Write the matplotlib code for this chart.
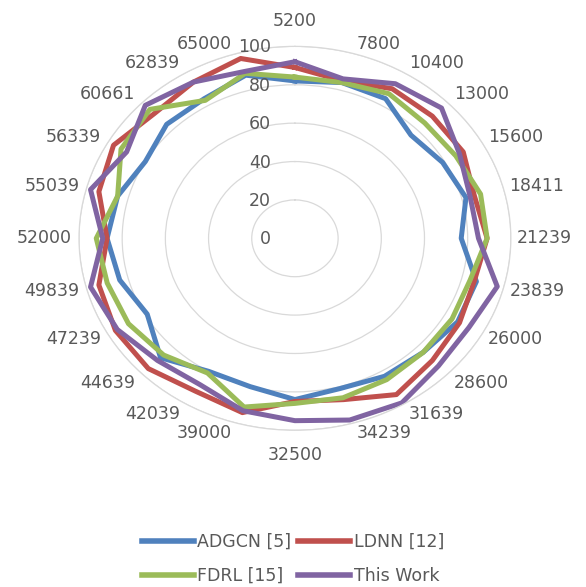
#!/usr/bin/env python3
"""Radar chart: per-size score of ADGCN / LDNN / FDRL vs this work."""
import numpy as np
import matplotlib

matplotlib.use("Agg")
import matplotlib.pyplot as plt  # noqa: E402

categories = ["5200", "7800", "10400", "13000", "15600", "18411", "21239",
              "23839", "26000", "28600", "31639", "34239", "32500", "39000",
              "42039", "44639", "47239", "49839", "52000", "55039", "56339",
              "60661", "62839", "65000"]
adgcn = [82, 84, 84, 76, 79, 82, 77, 87, 87, 84, 83, 81,
         84, 80, 80, 88, 79, 84, 87, 85, 80, 84, 84, 88]
ldnn = [89, 85, 90, 90, 90, 86, 89, 86, 88, 90, 94, 87,
        85, 94, 92, 96, 96, 94, 87, 94, 97, 92, 94, 97]
fdrl = [84, 84, 87, 85, 86, 89, 89, 84, 84, 84, 85, 86,
        86, 91, 81, 86, 89, 90, 92, 85, 93, 95, 83, 89]
this_work = [92, 86, 93, 96, 88, 84, 85, 97, 93, 94, 99, 98,
             95, 93, 88, 90, 95, 98, 89, 98, 90, 98, 94, 90]
series_names = ["ADGCN [5]", "LDNN [12]", "FDRL [15]", "This Work"]
r_ticks = [0, 20, 40, 60, 80, 100]

colors = ["#4F81BD", "#C0504D", "#9BBB59", "#8064A2"]
grey_text = "#595959"
grid_col = "#D9D9D9"

fig = plt.figure(figsize=(5.86, 5.87), dpi=100)
# polar axes stretched horizontally like the original
ax = fig.add_axes([0.1348, 0.267, 0.737, 0.654], projection="polar")
ax.set_aspect("auto")
ax.set_theta_zero_location("N")
ax.set_theta_direction(-1)
ax.set_ylim(0, 100)

theta = np.arange(len(categories)) * 2 * np.pi / len(categories)

handles = []
for vals, name, col in zip([adgcn, ldnn, fdrl, this_work], series_names, colors):
    v = np.append(vals, vals[0])
    t = np.append(theta, theta[0])
    (ln,) = ax.plot(t, v, color=col, lw=3.6, label=name)
    handles.append(ln)

ax.set_xticks(theta)
ax.set_xticklabels([])
ax.xaxis.grid(False)
ax.set_yticks(r_ticks)
ax.set_yticklabels([])
ax.yaxis.grid(True, color=grid_col, lw=0.9)
ax.spines["polar"].set_color(grid_col)
ax.spines["polar"].set_linewidth(0.9)
ax.tick_params(length=0)

# category labels anchored on the outer ring
for th, lab in zip(theta, categories):
    s, c = np.sin(th), np.cos(th)
    if abs(s) < 0.01:
        ha, dx = "center", 0
        va, dy = ("bottom", 16) if c > 0 else ("top", -16)
    else:
        ha, dx = ("left", 6) if s > 0 else ("right", -7)
        if c > 0.6:
            va, dy = "bottom", 0
        elif c < -0.6:
            va, dy = "top", 0
        else:
            va, dy = "center", c * 10
    ax.annotate(lab, xy=(th, 100), xytext=(dx, dy), textcoords="offset pixels",
                ha=ha, va=va, fontsize=12.5, color=grey_text,
                annotation_clip=False)

# radial value labels left of the top spoke
for r in r_ticks:
    ax.annotate(str(r), xy=(0, r), xytext=(-24, -1), textcoords="offset pixels",
                ha="right", va="center", fontsize=12.5, color=grey_text,
                annotation_clip=False)

order = [0, 2, 1, 3]
leg = fig.legend([handles[i] for i in order], [series_names[i] for i in order],
                 loc="center", bbox_to_anchor=(0.5, 0.048), ncol=2,
                 frameon=False, fontsize=12.5, handlelength=3.0,
                 handletextpad=0.2, columnspacing=0.4, labelspacing=0.95,
                 borderpad=0)
for txt in leg.get_texts():
    txt.set_color(grey_text)
for ln in leg.get_lines():
    ln.set_linewidth(4)

fig.savefig("out.png", dpi=100)
